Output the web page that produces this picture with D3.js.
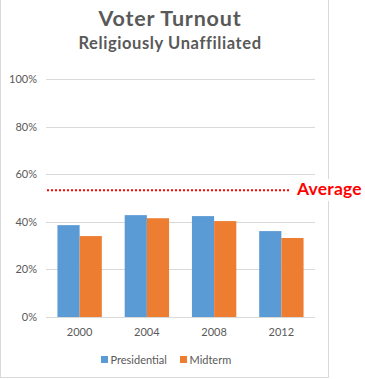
<!DOCTYPE html>
<html><head><meta charset="utf-8">
<script src="https://cdn.jsdelivr.net/npm/d3@7"></script>
<style>body{margin:0;background:#fff}svg{display:block}</style>
</head><body>
<svg id="c" width="365" height="379"></svg>
<script>
const categories = ["2000","2004","2008","2012"];
const presidential = [38.6, 42.8, 42.4, 36.1];
const midterm = [34.0, 41.5, 40.3, 33.2];
const average = 53.3;
const yTicks = [0,20,40,60,80,100];
const seriesNames = ["Presidential","Midterm"];
const colors = ["#5B9BD5","#ED7D31"];

const svg = d3.select("#c");
const font = "Lato, 'Open Sans', sans-serif";
const textCol = "#595959";

// frame
svg.append("rect").attr("x",0.5).attr("y",-1).attr("width",328).attr("height",378.5)
  .attr("fill","#fff").attr("stroke","#D9D9D9").attr("stroke-width",1);

const x0 = d3.scaleBand().domain(categories).range([46,315]).paddingInner(0.34).paddingOuter(0.17);
const x1 = d3.scaleBand().domain(seriesNames).range([0,x0.bandwidth()]);
const y = d3.scaleLinear().domain([0,100]).range([317,79]);

// gridlines
svg.append("g").selectAll("line").data(yTicks).join("line")
  .attr("x1",46).attr("x2",315).attr("y1",d=>Math.round(y(d))+0.5).attr("y2",d=>Math.round(y(d))+0.5)
  .attr("stroke","#D9D9D9").attr("stroke-width",1);

// y labels
svg.append("g").selectAll("text").data(yTicks).join("text")
  .attr("x",37).attr("y",d=>y(d)+4).attr("text-anchor","end")
  .attr("font-family",font).attr("font-size",11).attr("fill",textCol)
  .text(d=>d+"%");

// bars
const data = categories.map((c,i)=>({c, vals:[presidential[i], midterm[i]]}));
const g = svg.append("g").selectAll("g").data(data).join("g")
  .attr("transform",d=>`translate(${x0(d.c)},0)`);
g.selectAll("rect").data(d=>d.vals.map((v,j)=>({v,j}))).join("rect")
  .attr("x",d=>x1(seriesNames[d.j])).attr("width",x1.bandwidth())
  .attr("y",d=>y(d.v)).attr("height",d=>y(0)-y(d.v))
  .attr("fill",d=>colors[d.j]);

// x labels
svg.append("g").selectAll("text").data(categories).join("text")
  .attr("x",d=>x0(d)+x0.bandwidth()/2).attr("y",336).attr("text-anchor","middle")
  .attr("font-family",font).attr("font-size",11).attr("fill",textCol).text(d=>d);

// average line
svg.append("line").attr("x1",47).attr("x2",289).attr("y1",y(average)).attr("y2",y(average))
  .attr("stroke","#FF0000").attr("stroke-width",2).attr("stroke-dasharray","2,2");
svg.append("rect").attr("x",292).attr("y",179).attr("width",73).attr("height",22).attr("fill","#fff");
svg.append("text").attr("x",297).attr("y",195).attr("font-family",font).attr("font-weight","bold")
  .attr("font-size",17.5).attr("letter-spacing",0.2).attr("fill","#FF0000").text("Average");

// titles
svg.append("text").attr("x",170).attr("y",25.5).attr("text-anchor","middle")
  .attr("font-family",font).attr("font-weight","bold").attr("font-size",21.5).attr("letter-spacing",0.8)
  .attr("fill",textCol).text("Voter Turnout");
svg.append("text").attr("x",170).attr("y",48.5).attr("text-anchor","middle")
  .attr("font-family",font).attr("font-weight","bold").attr("font-size",16.5).attr("letter-spacing",0.6)
  .attr("fill",textCol).text("Religiously Unaffiliated");

// legend
const legX = [101, 180];
const lg = svg.append("g").selectAll("g").data(seriesNames).join("g")
  .attr("transform",(d,i)=>`translate(${legX[i]},356)`);
lg.append("rect").attr("width",7).attr("height",7).attr("fill",(d,i)=>colors[i]);
lg.append("text").attr("x",9.5).attr("y",7.5).attr("font-family",font).attr("font-size",11)
  .attr("fill",textCol).text(d=>d);
</script>
</body></html>
